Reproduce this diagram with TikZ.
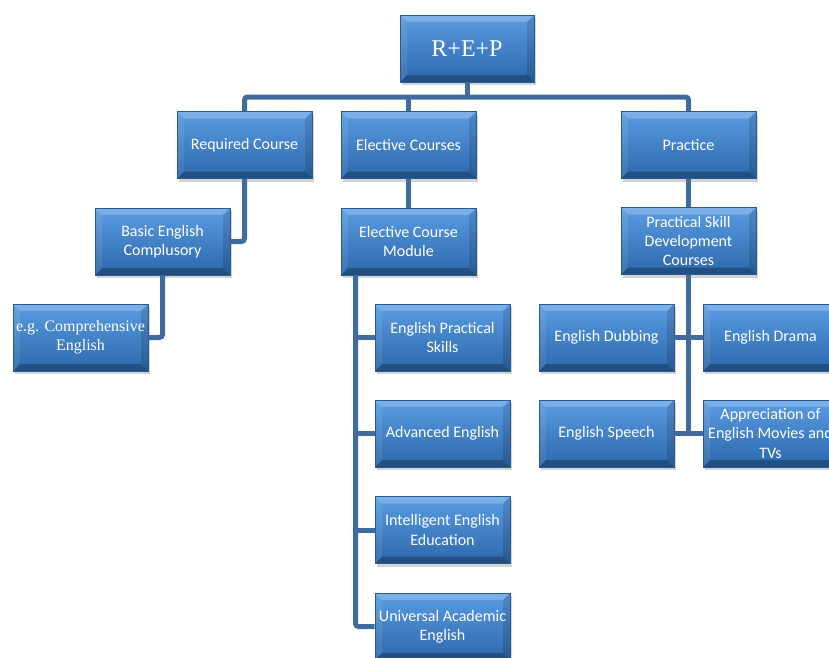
\documentclass[tikz,border=0pt]{standalone}
\usepackage{fontspec}
\newfontfamily\bodyfont{Carlito}
\newfontfamily\serffont{Liberation Serif}
\usetikzlibrary{shadows}
\definecolor{boxtop}{HTML}{5A9CE2}
\definecolor{boxmid}{HTML}{3A7ECB}
\definecolor{boxbot}{HTML}{2C67AB}
\definecolor{boxedge}{HTML}{2A5A92}
\definecolor{connc}{HTML}{3F6B9F}
\tikzset{
  box/.style={draw=boxedge, line width=0.6pt, minimum width=135pt, minimum height=67pt,
    inner sep=2pt, align=center, text=white,
    font=\bodyfont\fontsize{16}{19.2}\selectfont,
    top color=boxtop, middle color=boxmid, bottom color=boxbot,
    drop shadow={shadow xshift=1.5pt, shadow yshift=-3pt, opacity=0.35},
    path picture={
      \fill[white,opacity=0.22] (path picture bounding box.north west) -- (path picture bounding box.north east)
        -- ([xshift=-7pt,yshift=-7pt]path picture bounding box.north east) -- ([xshift=7pt,yshift=-7pt]path picture bounding box.north west) -- cycle;
      \fill[black,opacity=0.25] (path picture bounding box.south west) -- (path picture bounding box.south east)
        -- ([xshift=-7pt,yshift=7pt]path picture bounding box.south east) -- ([xshift=7pt,yshift=7pt]path picture bounding box.south west) -- cycle;
      \fill[black,opacity=0.12] (path picture bounding box.north east) -- (path picture bounding box.south east)
        -- ([xshift=-7pt,yshift=7pt]path picture bounding box.south east) -- ([xshift=-7pt,yshift=-7pt]path picture bounding box.north east) -- cycle;
      \fill[white,opacity=0.08] (path picture bounding box.north west) -- (path picture bounding box.south west)
        -- ([xshift=7pt,yshift=7pt]path picture bounding box.south west) -- ([xshift=7pt,yshift=-7pt]path picture bounding box.north west) -- cycle;
    }},
  serifbox/.style={box, font=\serffont\fontsize{16}{19.2}\selectfont},
  conn/.style={draw=connc, line width=5pt, rounded corners=3pt}
}
\begin{document}
\begin{tikzpicture}[x=1pt,y=1pt]
\useasboundingbox (0,0) rectangle (829,-657);
\clip (0,0) rectangle (829,-657);
% level 0
\node[box, minimum width=134pt, font=\serffont\fontsize{24}{28}\selectfont] (rep) at (467,-48.5) {R+E+P};
% level 1
\node[box] (req) at (244.5,-145) {Required Course};
\node[box] (elc) at (408.5,-145) {Elective Courses};
\node[box] (prac) at (688.5,-145) {Practice};
% level 2
\node[box] (basic) at (162.5,-241.5) {Basic English\\Complusory};
\node[box] (ecm) at (408.5,-241.5) {Elective Course\\Module};
\node[box] (psd) at (688.5,-241) {Practical Skill\\Development\\Courses};
% level 3
\node[serifbox] (eg) at (80.5,-337.5) {e.g. Comprehensive\\English};
\node[box] (eps) at (442.5,-337.5) {English Practical\\Skills};
\node[box] (adv) at (442.5,-433.5) {Advanced English};
\node[box] (ied) at (442.5,-530) {Intelligent English\\Education};
\node[box] (uae) at (442.5,-626.5) {Universal Academic\\English};
\node[box] (dub) at (606.5,-337.5) {English Dubbing};
\node[box] (drama) at (770.5,-337.5) {English Drama};
\node[box] (speech) at (606.5,-433.5) {English Speech};
\node[box] (appr) at (770.5,-433.5) {Appreciation of\\English Movies and\\TVs};
% helper coordinates
\coordinate (bus) at (0,-97);
\coordinate (trunk) at (355.5,0);
% connectors
\draw[conn] (rep.south) -- (rep.south |- bus);
\draw[conn] (req.north) -- (req.north |- bus) -| (prac.north);
\draw[conn] (elc.north) -- (elc.north |- bus);
\draw[conn] (req.south) |- (basic.east);
\draw[conn] (basic.south) |- (eg.east);
\draw[conn] (elc.south) -- (ecm.north);
\draw[conn] (ecm.south -| trunk) |- (uae.west);
\draw[conn] (eps.west) -- (eps.west -| trunk);
\draw[conn] (adv.west) -- (adv.west -| trunk);
\draw[conn] (ied.west) -- (ied.west -| trunk);
\draw[conn] (prac.south) -- (psd.north);
\draw[conn] (psd.south) -- (psd.south |- speech.east);
\draw[conn] (dub.east) -- (drama.west);
\draw[conn] (speech.east) -- (appr.west);
\end{tikzpicture}
\end{document}
